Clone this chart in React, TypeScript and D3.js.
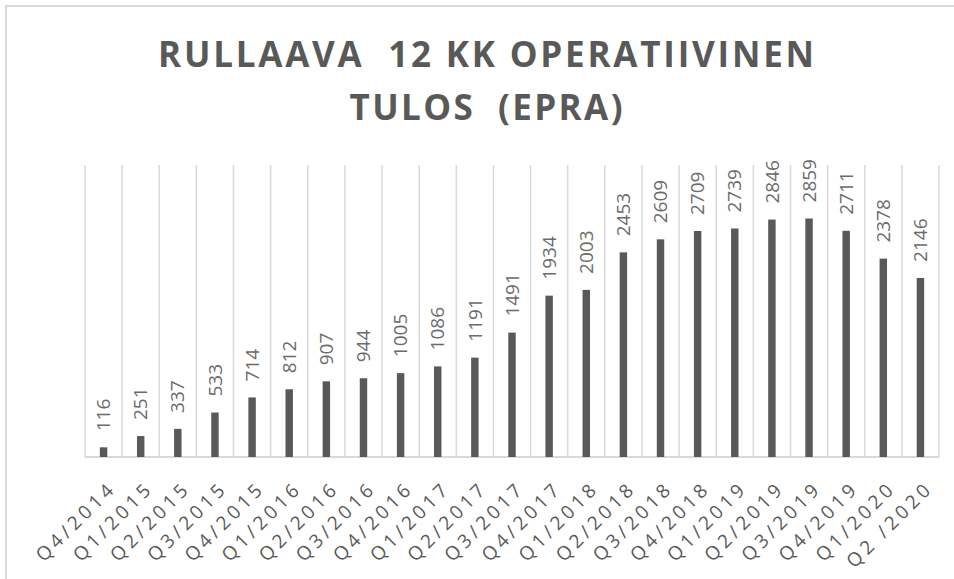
import React, { useEffect, useRef } from 'react'
import * as d3 from 'd3'

const quarters = [
  'Q4/2014', 'Q1/2015', 'Q2/2015', 'Q3/2015', 'Q4/2015', 'Q1/2016', 'Q2/2016', 'Q3/2016',
  'Q4/2016', 'Q1/2017', 'Q2/2017', 'Q3/2017', 'Q4/2017', 'Q1/2018', 'Q2/2018', 'Q3/2018',
  'Q4/2018', 'Q1/2019', 'Q2/2019', 'Q3/2019', 'Q4/2019', 'Q1/2020', 'Q2 /2020',
]
const values = [
  116, 251, 337, 533, 714, 812, 907, 944, 1005, 1086, 1191, 1491, 1934, 2003, 2453, 2609,
  2709, 2739, 2846, 2859, 2711, 2378, 2146,
]
const titleLines = ['RULLAAVA  12 KK OPERATIIVINEN', 'TULOS  (EPRA)']

const App = () => {
  const ref = useRef<SVGSVGElement>(null)
  const width = 954
  const height = 579

  useEffect(() => {
    const svg = d3.select(ref.current)
    svg.selectAll('*').remove()

    const data = quarters.map((q, i) => ({ q, v: values[i] }))
    const left = 85
    const right = 939
    const bottom = 457
    const top = 165

    const x = d3.scaleBand().domain(quarters).range([left, right]).padding(0)
    const y = d3.scaleLinear().domain([0, 3500]).range([bottom, top])
    const barW = x.bandwidth() * 0.2

    // Chart area border (only top/left visible)
    svg
      .append('rect')
      .attr('x', 6)
      .attr('y', 6)
      .attr('width', 1000)
      .attr('height', 1000)
      .attr('fill', 'white')
      .attr('stroke', '#d9d9d9')
      .attr('stroke-width', 2)

    // Title
    svg
      .append('g')
      .attr('fill', '#595959')
      .attr('font-family', '"Open Sans", sans-serif')
      .attr('font-weight', 'bold')
      .attr('font-size', 35)
      .attr('text-anchor', 'middle')
      .attr('xml:space', 'preserve')
      .selectAll()
      .data(titleLines)
      .join('text')
      .attr('xml:space', 'preserve')
      .attr('x', 486)
      .attr('y', (d, i) => 67 + i * 53)
      .attr('textLength', (d, i) => (i === 0 ? 656 : 273))
      .attr('lengthAdjust', 'spacing')
      .text(d => d)

    // Vertical gridlines at category boundaries
    const bounds = quarters.map(q => x(q)!).concat([right])
    svg
      .append('g')
      .attr('stroke', '#d9d9d9')
      .attr('stroke-width', 1.5)
      .selectAll()
      .data(bounds)
      .join('line')
      .attr('x1', d => d)
      .attr('x2', d => d)
      .attr('y1', top)
      .attr('y2', bottom)

    // Category axis line
    svg
      .append('line')
      .attr('x1', left)
      .attr('x2', right)
      .attr('y1', bottom)
      .attr('y2', bottom)
      .attr('stroke', '#d9d9d9')
      .attr('stroke-width', 2)

    // Bars
    svg
      .append('g')
      .attr('fill', '#595959')
      .selectAll()
      .data(data)
      .join('rect')
      .attr('x', d => x(d.q)! + x.bandwidth() / 2 - barW / 2)
      .attr('width', barW)
      .attr('y', d => y(d.v))
      .attr('height', d => bottom - y(d.v))

    // Value labels (rotated)
    svg
      .append('g')
      .attr('fill', '#6b6b6b')
      .attr('font-family', '"Open Sans", sans-serif')
      .attr('font-size', 19)
      .selectAll()
      .data(data)
      .join('text')
      .attr('transform', d => `translate(${x(d.q)! + x.bandwidth() / 2},${y(d.v) - 16}) rotate(-90)`)
      .attr('dy', '0.35em')
      .text(d => d.v)

    // Category labels (rotated -45)
    svg
      .append('g')
      .attr('fill', '#595959')
      .attr('font-family', '"Open Sans", sans-serif')
      .attr('font-size', 19)
      .attr('text-anchor', 'end')
      .selectAll()
      .data(quarters)
      .join('text')
      .attr('xml:space', 'preserve')
      .attr('transform', d => `translate(${x(d)! + x.bandwidth() / 2 + 11},${492}) rotate(-45)`)
      .attr('textLength', d => (d.includes(' ') ? 109 : 100))
      .attr('lengthAdjust', 'spacing')
      .text(d => d)
  }, [])

  return (
    <svg
      ref={ref}
      width={width}
      height={height}
      style={{ position: 'absolute', left: 0, top: 0, background: 'white' }}
    />
  )
}

export default App
